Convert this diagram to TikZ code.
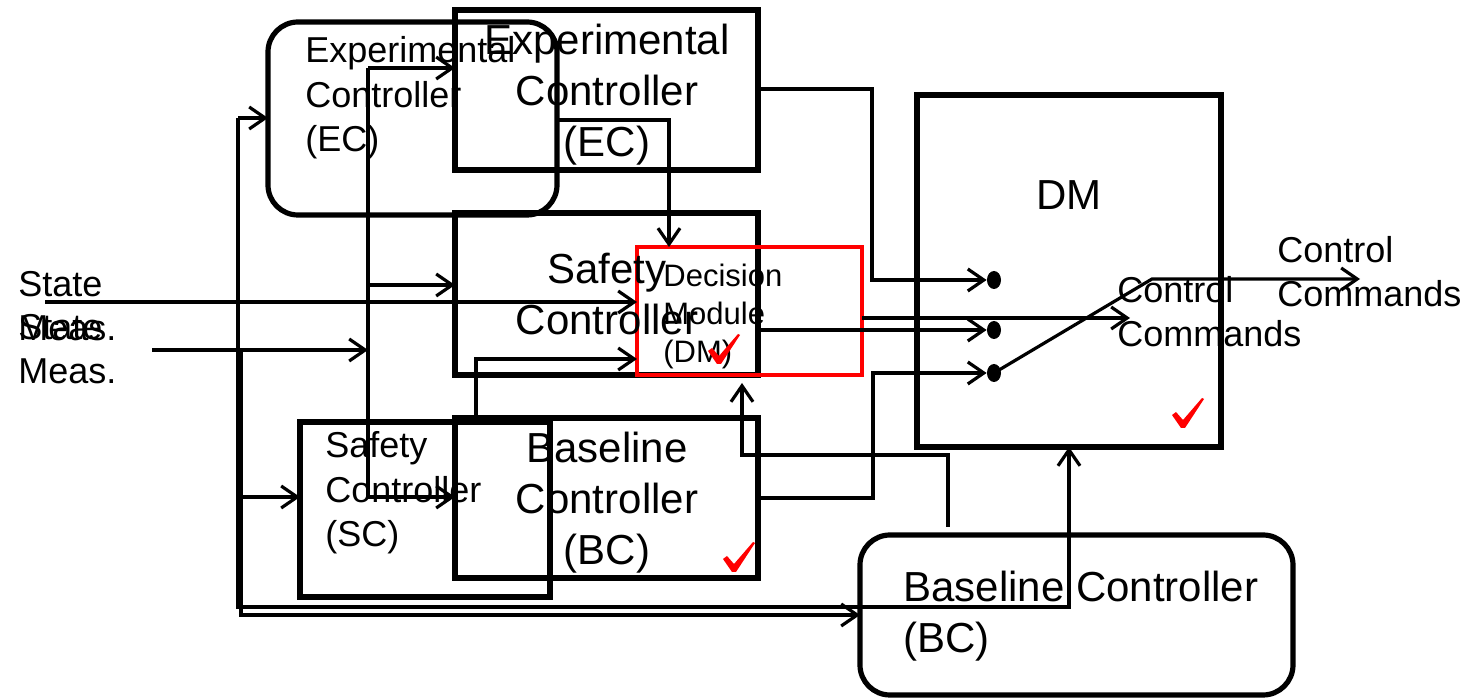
\documentclass[tikz,border=0pt]{standalone}
\usepackage{fontspec}
\setmainfont{Liberation Sans}
\usetikzlibrary{arrows.meta,shapes.geometric}

\begin{document}
\begin{tikzpicture}[x=0.5pt,y=-0.5pt,
    >={Straight Barb[length=8pt,width=11pt]},
    box/.style={draw,line width=2.6pt,inner sep=0pt,outer sep=0pt},
    rbox/.style={box,rounded corners=15pt},
    wire/.style={line width=1.6pt},
    swdot/.style={ellipse,fill,inner sep=0pt,minimum width=7pt,minimum height=9pt},
    big/.style={font=\fontsize{21}{25.5}\selectfont,inner sep=0pt},
    mid/.style={font=\fontsize{18}{22.25}\selectfont,inner sep=0pt},
    sml/.style={font=\fontsize{15.5}{19}\selectfont,inner sep=0pt},
    chk/.pic={\fill[red] (-16,2) -- (-12,-1) -- (-5,7) -- (14,-15)
      -- (16,-14) -- (-3,15) -- (-7,15) -- cycle;}]
  \useasboundingbox (0,0) rectangle (1480,699);
  % blocks
  \node[rbox,minimum width=144.5pt,minimum height=96.5pt] (ecR) at (412.5,118.5) {};
  \node[box,minimum width=151.5pt,minimum height=80pt] (ecS) at (606.5,90) {};
  \node[box,minimum width=151.5pt,minimum height=81pt] (scS) at (606.5,294) {};
  \node[box,minimum width=151.5pt,minimum height=80pt] (bcS) at (606.5,498) {};
  \node[box,minimum width=125pt,minimum height=87.5pt] (scR) at (425,509.5) {};
  \node[box,red,line width=2.4pt,minimum width=112.5pt,minimum height=64pt] (dmR) at (749.5,311) {};
  \node[box,minimum width=152pt,minimum height=176pt] (dmB) at (1069,271) {};
  \node[rbox,minimum width=216.5pt,minimum height=80pt] (bcR) at (1076.5,615) {};
  % switch contacts
  \node[swdot] (dotA) at (994,280) {};
  \node[swdot] (dotB) at (994,330) {};
  \node[swdot] (dotC) at (994,373) {};
  % labels (anchored on the last line)
  \node[mid,anchor=base west,align=left] (tEcR) at (305,152) {Experimental\\Controller\\(EC)};
  \node[big,anchor=base,align=center] (tEcS) at (607,157) {Experimental\\Controller\\(EC)};
  \node[big,anchor=base,align=center] (tScS) at (607,335) {Safety\\Controller};
  \node[big,anchor=base,align=center] (tBcS) at (607,565) {Baseline\\Controller\\(BC)};
  \node[mid,anchor=base west,align=left] (tScR) at (325,547) {Safety\\Controller\\(SC)};
  \node[sml,anchor=base west,align=left] (tDmR) at (663,363) {Decision\\Module\\(DM)};
  \node[big,anchor=base] (tDm) at (1069,210) {DM};
  \node[big,anchor=base west,align=left] (tBcR) at (903,653) {Baseline Controller\\(BC)};
  \node[mid,anchor=base west,align=left] (tMeasA) at (18,341) {State\\Meas.};
  \node[mid,anchor=base west,align=left] (tMeasB) at (18,384) {State\\Meas.};
  \node[mid,anchor=base west,align=left] (tCcIn) at (1117,347) {Control\\Commands};
  \node[mid,anchor=base west,align=left] (tCcOut) at (1277,307) {Control\\Commands};
  % wire corners and free ends
  \coordinate (sA) at (45,302);
  \coordinate (sB) at (152,350);
  \coordinate (jB) at (368,350);
  \coordinate (busTop) at (368,68);
  \coordinate (busMid) at (368,285);
  \coordinate (busBot) at (368,497);
  \coordinate (aTop) at (238,118);
  \coordinate (aSc) at (238,497);
  \coordinate (aBot) at (238,607);
  \coordinate (bTop) at (241,350);
  \coordinate (bBot) at (241,615);
  \coordinate (ecOut) at (669,120);
  \coordinate (ecTap) at (872,89);
  \coordinate (bcTap) at (873,498);
  \coordinate (bcUp) at (476,359);
  \coordinate (fbStart) at (948,527);
  \coordinate (fbTip) at (742,383);
  \coordinate (ccTip) at (1130,318);
  \coordinate (swEnd) at (1152,279);
  \coordinate (swTip) at (1360,279);
  % measurement inputs, square blocks
  \draw[wire,->] (sB) -- (jB);
  \draw[wire] (busTop) -- (busBot);
  \draw[wire,->] (busTop) -- (busTop -| ecS.west);
  \draw[wire,->] (busMid) -- (busMid -| scS.west);
  \draw[wire,->] (busBot) -- (busBot -| bcS.west);
  % measurement inputs, rounded blocks
  \draw[wire,->] (sA) -- (sA -| dmR.west);
  \draw[wire,->] (aTop) -- (aTop -| ecR.west);
  \draw[wire,->] (aTop) -- (aBot) -- (aBot -| dmB.south) -- (dmB.south);
  \draw[wire,->] (aSc) -- (aSc -| scR.west);
  \draw[wire,->] (bTop) -- (bBot) -- (bBot -| bcR.west);
  % controller outputs
  \draw[wire,->] (ecR.east |- ecOut) -| (ecOut |- dmR.north);
  \draw[wire,->] (ecS.east |- ecTap) -| (ecTap |- dotA) -- (dotA.west);
  \draw[wire,->] (scS.east |- dotB) -- (dotB.west);
  \draw[wire,->] (bcS.east |- bcTap) -| (bcTap |- dotC) -- (dotC.west);
  \draw[wire,->] (bcUp |- bcS.north) -- (bcUp) -- (bcUp -| dmR.west);
  \draw[wire,->] (fbStart) |- (fbTip |- 0,455) -- (fbTip);
  \draw[wire,->] (dmR.east |- ccTip) -- (ccTip);
  % switch
  \draw[wire,->] (dotC.center) -- (swEnd) -- (swTip);
  % checks
  \pic at (724,349) {chk};
  \pic at (739,557) {chk};
  \pic at (1188,413) {chk};
\end{tikzpicture}
\end{document}
